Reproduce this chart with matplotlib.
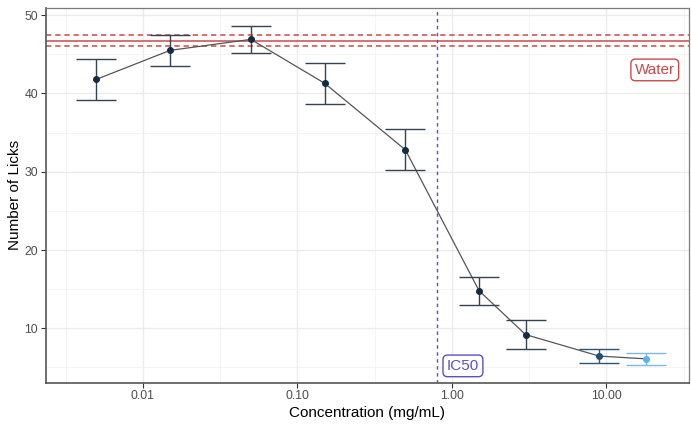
import matplotlib
matplotlib.use("Agg")
from matplotlib import pyplot as plt
from matplotlib.ticker import FixedLocator, FixedFormatter, NullFormatter

plt.rcParams["font.family"] = ["Liberation Sans", "DejaVu Sans"]

conc = [0.005, 0.015, 0.05, 0.15, 0.5, 1.5, 3, 9, 18]
licks = [41.8, 45.5, 46.9, 41.3, 32.8, 14.8, 9.2, 6.45, 6.1]
licks_err = [2.65, 2.0, 1.7, 2.6, 2.6, 1.8, 1.8, 0.9, 0.8]

water_mean = 46.75
water_err = 0.65
ic50 = 0.80

x_breaks = [0.01, 0.1, 1, 10]
x_labels = ["0.01", "0.10", "1.00", "10.00"]
y_breaks = [10, 20, 30, 40, 50]

point_cols = ["#132B43"] * 7 + ["#1f4e75", "#56B1F7"]
bar_cols = ["#34434f"] * 7 + ["#2e5674", "#7db9e2"]
red = "#c94a4a"
blue = "#5b4fc9"

fig = plt.figure(figsize=(6.91, 4.25), dpi=100)
ax = fig.add_axes([0.066, 0.0995, 0.931, 0.8815])
ax.set_xscale("log")
ax.set_xlim(10 ** -2.63, 10 ** 1.535)
ax.set_ylim(3.05, 50.9)

# grid like theme_bw
ax.xaxis.set_major_locator(FixedLocator(x_breaks))
ax.xaxis.set_major_formatter(FixedFormatter(x_labels))
ax.xaxis.set_minor_locator(FixedLocator([10 ** -2.5, 10 ** -1.5, 10 ** -0.5, 10 ** 0.5, 10 ** 1.5]))
ax.xaxis.set_minor_formatter(NullFormatter())
ax.yaxis.set_major_locator(FixedLocator(y_breaks))
ax.yaxis.set_minor_locator(FixedLocator([5, 15, 25, 35, 45]))
ax.grid(True, which="major", color="#ebebeb", lw=1.0)
ax.grid(True, which="minor", color="#f2f2f2", lw=0.6)
ax.set_axisbelow(True)
ax.tick_params(which="minor", length=0)
ax.tick_params(which="major", length=3.3, pad=2, color="#333333", labelcolor="#4d4d4d", labelsize=8.8)

for s in ["top", "right"]:
    ax.spines[s].set_color("#7a7a7a")
    ax.spines[s].set_linewidth(0.9)
for s in ["left", "bottom"]:
    ax.spines[s].set_color("#555555")
    ax.spines[s].set_linewidth(1.2)

# water reference
ax.axhline(water_mean, color=red, lw=1.1)
ax.axhline(water_mean + water_err, color=red, lw=1.1, ls=(0, (3.5, 2.5)))
ax.axhline(water_mean - water_err, color=red, lw=1.1, ls=(0, (3.5, 2.5)))
ax.axvline(ic50, color=blue, lw=1.0, ls=(0, (2.5, 2.5)))

ax.plot(conc, licks, color="#555555", lw=0.9, zorder=3)
for i in range(len(conc)):
    ax.errorbar(conc[i], licks[i], yerr=licks_err[i], fmt="none", ecolor=bar_cols[i],
                elinewidth=1.0, capsize=14.4, capthick=1.0, zorder=4)
    ax.plot(conc[i], licks[i], "o", color=point_cols[i], ms=4, zorder=5)

box = dict(boxstyle="round,pad=0.25,rounding_size=0.3", fc="white", lw=1.0)
ax.text(20.6, 43.0, "Water", color=red, fontsize=11, ha="center", va="center",
        bbox=dict(box, ec=red))
ax.text(1.18, 5.2, "IC50", color=blue, fontsize=11, ha="center", va="center",
        bbox=dict(box, ec=blue))

ax.set_xlabel("Concentration (mg/mL)", fontsize=11, color="black", labelpad=3)
ax.set_ylabel("Number of Licks", fontsize=11, color="black", labelpad=2)

fig.savefig("out.png", dpi=100)
